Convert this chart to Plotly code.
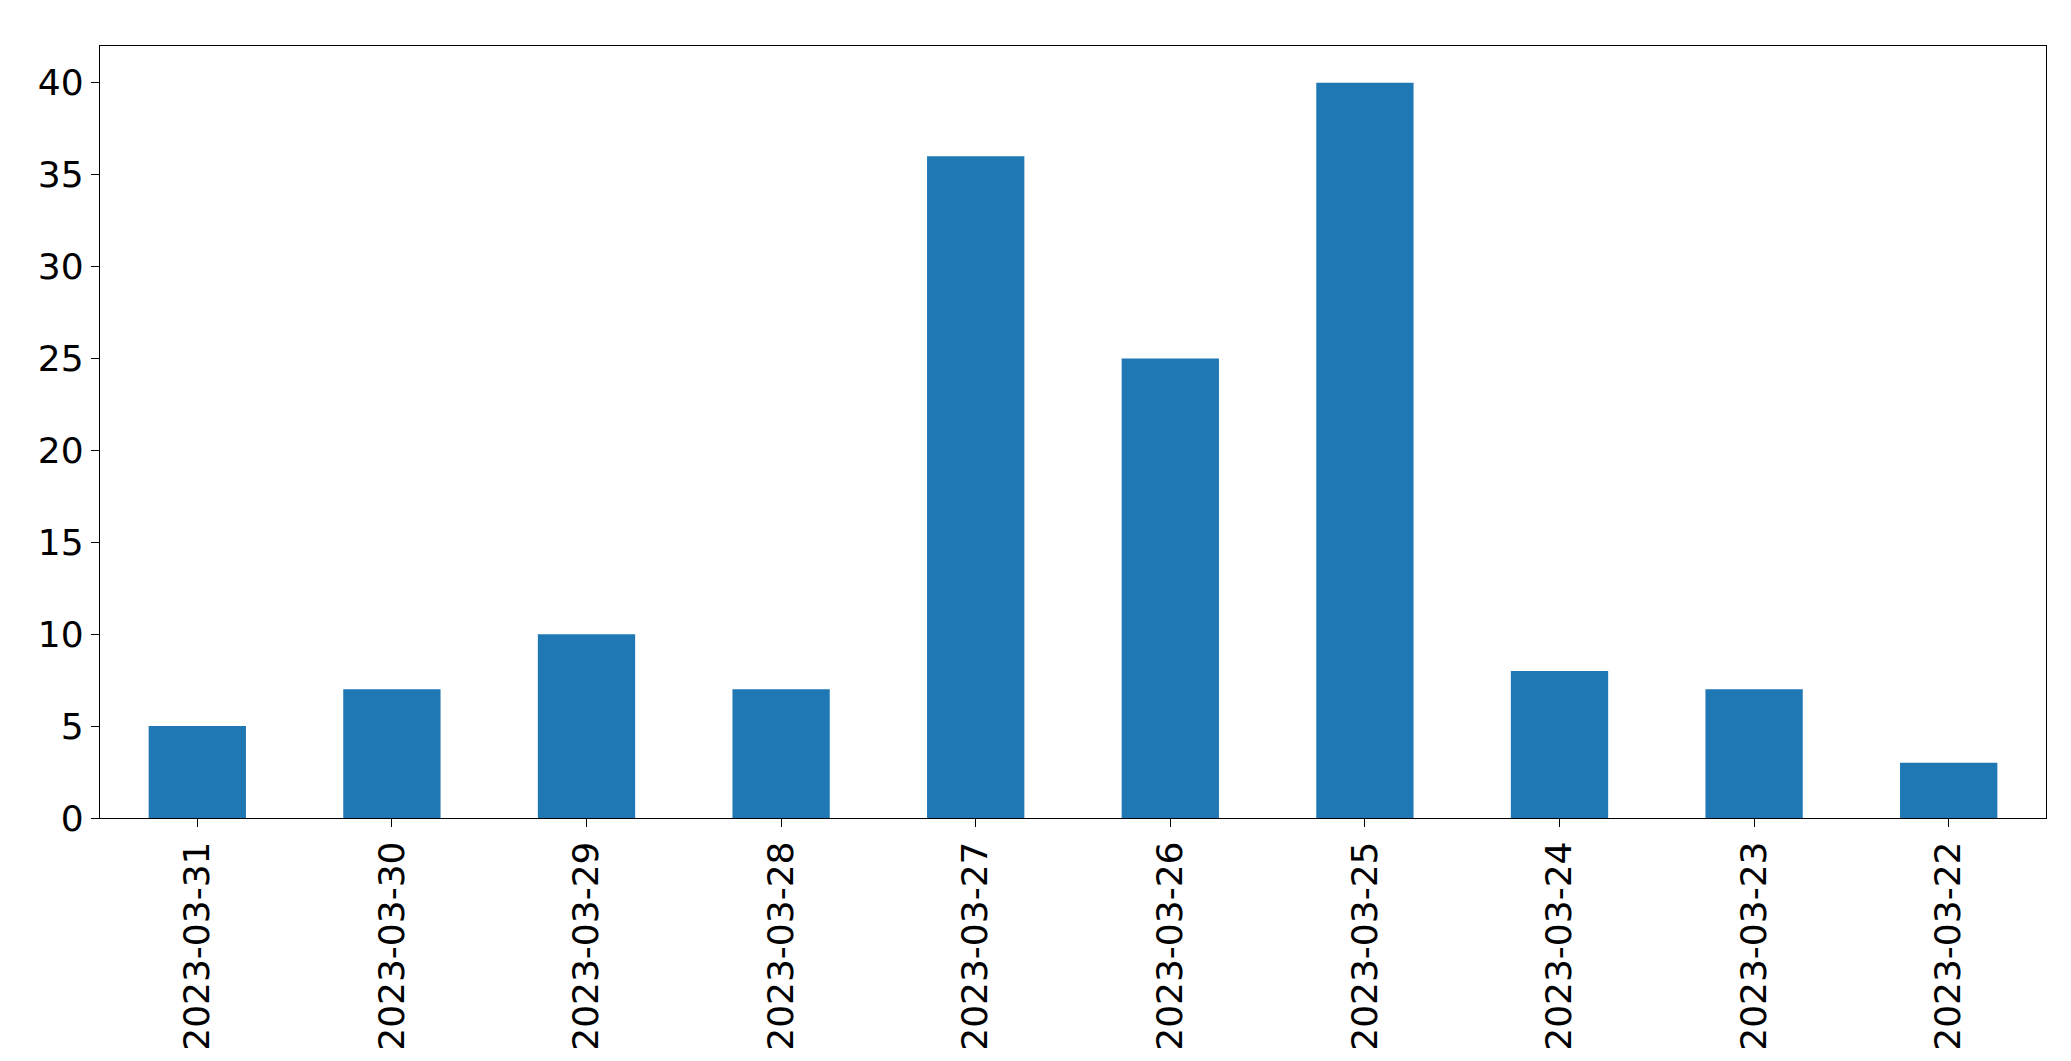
import plotly.graph_objects as go

dates = ['2023-03-31', '2023-03-30', '2023-03-29', '2023-03-28', '2023-03-27',
         '2023-03-26', '2023-03-25', '2023-03-24', '2023-03-23', '2023-03-22']
counts = [5, 7, 10, 7, 36, 25, 40, 8, 7, 3]

W, H = 2071, 1061
fig = go.Figure()
fig.add_bar(x=dates, y=counts, width=0.5, marker=dict(color='#1f77b4', line=dict(width=0)))

axis_common = dict(showline=True, linecolor='black', linewidth=1.3, mirror=True,
                   ticks='outside', ticklen=8, tickwidth=1.3, tickcolor='black',
                   showgrid=False, zeroline=False,
                   tickfont=dict(family='DejaVu Sans', size=36, color='black'))
fig.update_layout(
    width=W, height=H,
    paper_bgcolor='white', plot_bgcolor='white',
    margin=dict(l=92, r=W - 2038, t=38, b=H - 810),
    showlegend=False,
    xaxis=dict(type='category', range=[-0.5, 9.5], tickangle=-90, **axis_common),
    yaxis=dict(range=[0, 42], tickvals=[0, 5, 10, 15, 20, 25, 30, 35, 40], **axis_common),
)
fig.write_html("out.html")
